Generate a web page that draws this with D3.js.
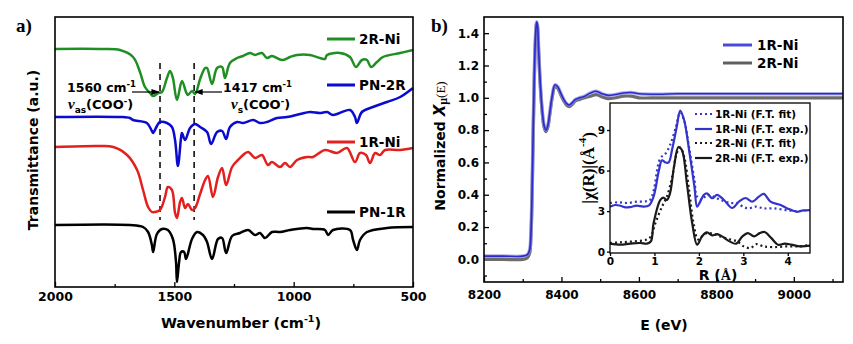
<!DOCTYPE html>
<html><head><meta charset="utf-8">
<script src="https://cdn.jsdelivr.net/npm/d3@7"></script>
<style>
body{margin:0;background:#fff}
svg{display:block}
text{font-family:"DejaVu Sans",sans-serif;font-weight:bold;fill:#000}
</style>
</head><body>
<svg id="chart" width="853" height="344"></svg>
<script>
// ---------- (a) FTIR spectra: [wavenumber cm^-1, transmittance a.u. (offset)] ----------
const ftir2RNi = [[2000,2.38],[1811,2.38],[1728,2.37],[1673,2.30],[1644,2.15],[1623,2.00],[1602,1.94],[1589,1.91],[1568,1.94],[1552,1.95],[1531,2.09],[1518,2.16],[1506,2.09],[1489,1.87],[1468,2.06],[1451,1.95],[1443,1.92],[1426,1.96],[1413,1.93],[1392,2.08],[1371,2.19],[1363,2.19],[1342,2.03],[1321,2.19],[1300,2.20],[1288,2.09],[1267,2.24],[1237,2.29],[1212,2.31],[1183,2.34],[1162,2.32],[1133,2.34],[1112,2.29],[1091,2.31],[1049,2.27],[1015,2.30],[986,2.32],[932,2.32],[890,2.29],[869,2.28],[860,2.32],[806,2.34],[764,2.30],[739,2.20],[714,2.27],[693,2.27],[676,2.20],[651,2.25],[626,2.30],[554,2.34],[500,2.37]];
const ftirPN2R = [[2000,1.70],[1728,1.70],[1686,1.69],[1673,1.67],[1615,1.64],[1594,1.56],[1589,1.54],[1573,1.61],[1560,1.65],[1531,1.64],[1510,1.60],[1497,1.47],[1485,1.21],[1472,1.49],[1468,1.54],[1455,1.47],[1434,1.59],[1413,1.63],[1392,1.60],[1363,1.55],[1346,1.43],[1321,1.55],[1300,1.56],[1283,1.48],[1267,1.60],[1237,1.65],[1212,1.64],[1170,1.67],[1141,1.64],[1112,1.65],[1070,1.69],[1028,1.70],[973,1.73],[932,1.75],[890,1.74],[860,1.75],[835,1.72],[764,1.77],[743,1.70],[735,1.64],[714,1.75],[668,1.80],[609,1.85],[554,1.90],[500,1.99]];
const ftir1RNi = [[2000,1.40],[1811,1.41],[1756,1.40],[1698,1.32],[1656,1.17],[1631,0.97],[1610,0.80],[1594,0.75],[1581,0.75],[1560,0.77],[1539,0.90],[1527,1.00],[1510,0.97],[1497,0.74],[1489,0.69],[1476,0.85],[1468,0.89],[1455,0.79],[1443,0.83],[1426,0.77],[1413,0.79],[1392,0.93],[1371,1.07],[1359,1.11],[1338,0.90],[1317,1.10],[1300,1.19],[1283,1.02],[1258,1.20],[1233,1.27],[1191,1.35],[1162,1.29],[1133,1.32],[1108,1.22],[1091,1.25],[1057,1.20],[1036,1.24],[1015,1.20],[986,1.27],[944,1.30],[919,1.30],[869,1.37],[818,1.34],[777,1.39],[743,1.25],[722,1.34],[697,1.32],[680,1.24],[659,1.34],[638,1.32],[617,1.37],[554,1.37],[500,1.39]];
const ftirPN1R = [[2000,0.62],[1686,0.62],[1631,0.60],[1610,0.55],[1594,0.42],[1589,0.35],[1573,0.53],[1552,0.58],[1527,0.57],[1506,0.48],[1493,0.25],[1489,0.05],[1480,0.25],[1472,0.35],[1459,0.35],[1451,0.28],[1426,0.48],[1405,0.55],[1380,0.52],[1363,0.45],[1342,0.28],[1317,0.48],[1300,0.49],[1283,0.34],[1258,0.51],[1225,0.54],[1191,0.57],[1162,0.52],[1141,0.54],[1120,0.49],[1091,0.55],[1057,0.55],[1015,0.57],[944,0.59],[919,0.58],[869,0.57],[856,0.52],[835,0.57],[764,0.57],[751,0.47],[735,0.37],[722,0.47],[693,0.55],[609,0.59],[500,0.60]];
const ftirSeries = ["2R-Ni","PN-2R","1R-Ni","PN-1R"];
const ftirColors = ["#1f8f24","#0a0ad0","#e3201e","#000000"];
const wnTicks = [2000,1500,1000,500];
const wnMinorTicks = [1750,1250,750];
const markWn = [1560,1417];

// ---------- (b) Ni K-edge XANES: [E eV, normalized mu] ----------
const xanes1RNi = [[8200,0.02],[8250,0.02],[8300,0.02],[8312,0.03],[8318,0.06],[8321,0.15],[8324,0.40],[8327,0.80],[8330,1.15],[8333,1.38],[8336,1.47],[8338,1.45],[8341,1.30],[8345,1.10],[8350,0.93],[8355,0.83],[8360,0.80],[8365,0.83],[8370,0.91],[8376,1.01],[8383,1.08],[8390,1.07],[8398,1.03],[8406,0.99],[8413,0.965],[8420,0.955],[8428,0.97],[8436,0.99],[8447,1.00],[8460,1.01],[8475,1.03],[8490,1.04],[8505,1.025],[8520,1.015],[8540,1.02],[8560,1.03],[8580,1.033],[8600,1.025],[8650,1.022],[8700,1.025],[8800,1.025],[8900,1.025],[9000,1.025],[9127,1.025]];
const xanes2RNi = [[8200,0.00],[8250,0.00],[8300,0.00],[8312,0.01],[8318,0.04],[8321,0.13],[8324,0.38],[8327,0.78],[8330,1.13],[8333,1.36],[8336,1.46],[8338,1.44],[8341,1.29],[8345,1.09],[8350,0.92],[8355,0.82],[8360,0.79],[8365,0.82],[8370,0.90],[8376,1.00],[8383,1.07],[8390,1.06],[8398,1.02],[8406,0.98],[8413,0.955],[8420,0.945],[8428,0.96],[8436,0.98],[8447,0.99],[8460,1.00],[8475,1.01],[8490,1.02],[8505,1.005],[8520,0.995],[8540,1.00],[8560,1.01],[8580,1.01],[8600,1.00],[8650,1.00],[8700,1.00],[8800,1.00],[8900,1.00],[9000,1.00],[9127,1.00]];
const eTicks = [8200,8400,8600,8800,9000];
const eMinorTicks = [8300,8500,8700,8900,9100];
const muTicks = [0.0,0.2,0.4,0.6,0.8,1.0,1.2,1.4];
const muMinorTicks = [-0.1,0.1,0.3,0.5,0.7,0.9,1.1,1.3];

// ---------- inset: Fourier transforms [R Å, |chi(R)|] ----------
const ft1RNiExp = [[0,3.33],[0.12,3.45],[0.23,3.4],[0.35,3.28],[0.45,3.3],[0.6,3.4],[0.75,3.33],[0.88,3.42],[0.98,4.07],[1.1,6.0],[1.17,6.76],[1.25,6.6],[1.32,6.6],[1.4,7.6],[1.5,9.2],[1.58,10.44],[1.67,9.7],[1.78,7.5],[1.9,4.8],[1.96,3.33],[2.03,3.7],[2.11,4.19],[2.18,4.31],[2.3,3.95],[2.41,4.2],[2.56,3.84],[2.75,3.23],[2.9,3.7],[3.05,3.97],[3.2,3.7],[3.35,4.07],[3.46,4.28],[3.61,3.7],[3.84,3.45],[3.99,3.2],[4.21,2.95],[4.35,3.05],[4.5,3.08]];
const ft1RNiFit = [[0,3.6],[0.2,3.65],[0.4,3.6],[0.6,3.7],[0.8,3.72],[0.9,3.82],[0.98,4.5],[1.13,6.9],[1.25,7.26],[1.35,7.87],[1.48,9.2],[1.58,10.3],[1.67,9.7],[1.78,7.7],[1.9,5.3],[1.96,4.07],[2.07,3.84],[2.18,4.2],[2.33,4.07],[2.48,3.84],[2.71,3.6],[2.85,3.6],[3.01,3.3],[3.12,3.2],[3.27,3.33],[3.46,3.2],[3.69,3.2],[3.99,3.06],[4.21,3.0],[4.4,3.05]];
const ft2RNiExp = [[0,0.59],[0.23,0.52],[0.45,0.59],[0.68,0.64],[0.83,0.59],[0.92,0.76],[0.98,2.1],[1.13,3.82],[1.2,4.0],[1.28,3.82],[1.35,4.31],[1.44,6.27],[1.54,7.74],[1.62,7.5],[1.73,5.05],[1.85,2.1],[1.96,0.51],[2.07,1.13],[2.18,1.42],[2.3,1.2],[2.41,1.3],[2.52,1.13],[2.69,0.76],[2.84,0.59],[2.98,1.13],[3.1,1.37],[3.24,1.13],[3.37,1.37],[3.48,1.45],[3.63,1.0],[3.78,0.51],[3.93,0.59],[4.08,0.52],[4.28,0.39],[4.5,0.44]];
const ft2RNiFit = [[0,0.64],[0.23,0.69],[0.53,0.76],[0.83,0.9],[0.92,1.13],[1.02,2.1],[1.17,3.33],[1.28,4.07],[1.4,5.54],[1.5,7.26],[1.58,7.7],[1.67,7.0],[1.78,4.56],[1.88,2.1],[1.98,0.9],[2.07,1.13],[2.18,1.37],[2.33,1.3],[2.48,1.13],[2.71,0.9],[2.86,0.76],[3.01,0.39],[3.16,0.27],[3.3,0.56],[3.46,0.39],[3.69,0.34],[3.99,0.39],[4.28,0.39],[4.5,0.51]];
const rTicks = [0,1,2,3,4];
const chiTicks = [0,3,6,9];

const svg = d3.select("#chart");
const curve = d3.curveCatmullRom.alpha(0.5);

function styleAxis(g, size){
  g.select(".domain").remove();
  g.selectAll(".tick line").attr("stroke","#000").attr("stroke-width",1.3);
  g.selectAll(".tick text").attr("font-size",size).attr("fill","#000")
    .style("font-family","'DejaVu Sans',sans-serif").style("font-weight","bold");
}

// ================= panel (a) =================
const A = {l:55, r:413, t:17, b:287};
const xA = d3.scaleLinear().domain([2000,500]).range([A.l,A.r]);
const yA = d3.scaleLinear().domain([0,2.7]).range([A.b,A.t]);

svg.append("g").attr("transform",`translate(0,${A.b})`)
  .call(d3.axisBottom(xA).tickValues(wnMinorTicks).tickSize(-3).tickFormat(""))
  .call(g=>styleAxis(g,12));
svg.append("g").attr("transform",`translate(0,${A.b})`)
  .call(d3.axisBottom(xA).tickValues(wnTicks).tickSize(-5).tickPadding(5).tickFormat(d3.format("d")))
  .call(g=>styleAxis(g,12.5));

// dashed guides at the carboxylate stretches
svg.selectAll(".guide").data(markWn).join("line")
  .attr("x1",d=>xA(d)).attr("x2",d=>xA(d))
  .attr("y1",63).attr("y2",220)
  .attr("stroke","#111").attr("stroke-width",1.6).attr("stroke-dasharray","6,5");

const lineA = d3.line().x(d=>xA(d[0])).y(d=>yA(d[1])).curve(curve);
[ftir2RNi,ftirPN2R,ftir1RNi,ftirPN1R].forEach((s,i)=>{
  svg.append("path").datum(s).attr("d",lineA).attr("fill","none")
    .attr("stroke",ftirColors[i]).attr("stroke-width",2.5).attr("stroke-linejoin","round");
});

svg.append("rect").attr("x",A.l).attr("y",A.t).attr("width",A.r-A.l).attr("height",A.b-A.t)
  .attr("fill","none").attr("stroke","#000").attr("stroke-width",1.6);

// legend (a)
const legAy = [39,85,142,212];
ftirSeries.forEach((name,i)=>{
  svg.append("line").attr("x1",327).attr("x2",355).attr("y1",legAy[i]).attr("y2",legAy[i])
    .attr("stroke",ftirColors[i]).attr("stroke-width",3);
  svg.append("text").attr("x",359).attr("y",legAy[i]+5).attr("font-size",13.5).text(name);
});

// arrow markers
const defs = svg.append("defs");
defs.append("marker").attr("id","arr").attr("viewBox","0 0 10 10").attr("refX",9).attr("refY",5)
  .attr("markerWidth",7).attr("markerHeight",7).attr("orient","auto-start-reverse")
  .append("path").attr("d","M0,1.5L10,5L0,8.5z").attr("fill","#000");

svg.append("line").attr("x1",132).attr("x2",xA(markWn[0])-1).attr("y1",92).attr("y2",92)
  .attr("stroke","#000").attr("stroke-width",1.2).attr("marker-end","url(#arr)");
svg.append("line").attr("x1",222).attr("x2",xA(markWn[1])+1).attr("y1",92).attr("y2",92)
  .attr("stroke","#000").attr("stroke-width",1.2).attr("marker-end","url(#arr)");

function wnLabel(x,y,val){
  const t = svg.append("text").attr("x",x).attr("y",y).attr("font-size",12.5);
  t.append("tspan").text(val+" cm");
  t.append("tspan").attr("dy",-5).attr("font-size",8.5).text("-1");
}
function vibLabel(x,y,sub){
  const t = svg.append("text").attr("x",x).attr("y",y).attr("font-size",13);
  t.append("tspan").style("font-family","'Liberation Serif',serif").style("font-style","italic")
    .attr("font-size",15).text("ν");
  t.append("tspan").attr("dy",4).attr("font-size",9).text(sub);
  t.append("tspan").attr("dy",-4).text("(COO");
  t.append("tspan").attr("dy",-5).attr("font-size",8.5).text("-");
  t.append("tspan").attr("dy",5).text(")");
}
wnLabel(67,92,markWn[0]);
vibLabel(68,109,"as");
wnLabel(223,92,markWn[1]);
vibLabel(231,109,"s");

svg.append("text").attr("transform","translate(33,150) rotate(-90)")
  .attr("text-anchor","middle").attr("dominant-baseline","central").attr("font-size",14)
  .text("Transmittance (a.u.)");
const wl = svg.append("text").attr("x",241).attr("y",328).attr("text-anchor","middle").attr("font-size",14.5);
wl.append("tspan").text("Wavenumber (cm");
wl.append("tspan").attr("dy",-6).attr("font-size",9.5).text("-1");
wl.append("tspan").attr("dy",6).text(")");

svg.append("text").attr("x",16).attr("y",32).attr("font-size",19)
  .style("font-family","'Liberation Serif',serif").text("a)");

// ================= panel (b) =================
const B = {l:484, r:843, t:17, b:282};
const xB = d3.scaleLinear().domain([8200,9127]).range([B.l,B.r]);
const yB = d3.scaleLinear().domain([-0.14,1.5]).range([B.b,B.t]);

svg.append("g").attr("transform",`translate(0,${B.b})`)
  .call(d3.axisBottom(xB).tickValues(eMinorTicks).tickSize(-3).tickFormat(""))
  .call(g=>styleAxis(g,12));
svg.append("g").attr("transform",`translate(0,${B.b})`)
  .call(d3.axisBottom(xB).tickValues(eTicks).tickSize(-5).tickPadding(8).tickFormat(d3.format("d")))
  .call(g=>styleAxis(g,12));
svg.append("g").attr("transform",`translate(${B.l},0)`)
  .call(d3.axisLeft(yB).tickValues(muMinorTicks).tickSize(-3).tickFormat(""))
  .call(g=>styleAxis(g,12));
svg.append("g").attr("transform",`translate(${B.l},0)`)
  .call(d3.axisLeft(yB).tickValues(muTicks).tickSize(-5).tickPadding(5).tickFormat(d3.format(".1f")))
  .call(g=>styleAxis(g,12));

const lineB = d3.line().x(d=>xB(d[0])).y(d=>yB(d[1])).curve(curve);
svg.append("path").datum(xanes2RNi).attr("d",lineB).attr("fill","none")
  .attr("stroke","#6c6c6c").attr("stroke-width",3.2).attr("stroke-linejoin","round");
svg.append("path").datum(xanes1RNi).attr("d",lineB).attr("fill","none")
  .attr("stroke","#8c8ce0").attr("stroke-width",3.6).attr("stroke-opacity",0.7).attr("stroke-linejoin","round");
svg.append("path").datum(xanes1RNi).attr("d",lineB).attr("fill","none")
  .attr("stroke","#2a2ad0").attr("stroke-width",1.6).attr("stroke-linejoin","round");

svg.append("rect").attr("x",B.l).attr("y",B.t).attr("width",B.r-B.l).attr("height",B.b-B.t)
  .attr("fill","none").attr("stroke","#000").attr("stroke-width",1.6);

// legend (b)
[["1R-Ni","#4a4ad8",45],["2R-Ni","#606060",63]].forEach(([n,c,y])=>{
  svg.append("line").attr("x1",723).attr("x2",752).attr("y1",y).attr("y2",y).attr("stroke",c).attr("stroke-width",3);
  svg.append("text").attr("x",757).attr("y",y+5).attr("font-size",13.5).text(n);
});

const yl = svg.append("text").attr("transform","translate(440,146) rotate(-90)")
  .attr("text-anchor","middle").attr("dominant-baseline","central").attr("font-size",14);
yl.append("tspan").text("Normalized ");
yl.append("tspan").style("font-style","italic").attr("font-size",15).text("X");
yl.append("tspan").style("font-family","'Liberation Serif',serif").attr("font-size",12).attr("dy",3).text("μ");
yl.append("tspan").style("font-family","'Liberation Serif',serif").style("font-weight","normal").attr("font-size",13).attr("dy",-3).text("(E)");

svg.append("text").attr("x",664).attr("y",330).attr("text-anchor","middle").attr("font-size",14).text("E (eV)");
svg.append("text").attr("x",431).attr("y",32).attr("font-size",19)
  .style("font-family","'Liberation Serif',serif").text("b)");

// ================= inset =================
const I = {l:610, r:810, t:103, b:253};
const xI = d3.scaleLinear().domain([0,4.5]).range([I.l,I.r]);
const yI = d3.scaleLinear().domain([-0.1,11]).range([I.b,I.t]);

svg.append("rect").attr("x",I.l).attr("y",I.t).attr("width",I.r-I.l).attr("height",I.b-I.t)
  .attr("fill","#fff").attr("stroke","none");

svg.append("g").attr("transform",`translate(0,${I.b})`)
  .call(d3.axisBottom(xI).tickValues(rTicks).tickSize(3).tickPadding(2).tickFormat(d3.format("d")))
  .call(g=>styleAxis(g,10.5));
svg.append("g").attr("transform",`translate(${I.l},0)`)
  .call(d3.axisLeft(yI).tickValues(chiTicks).tickSize(3).tickPadding(2).tickFormat(d3.format("d")))
  .call(g=>styleAxis(g,10.5));

const lineI = d3.line().x(d=>xI(d[0])).y(d=>yI(d[1])).curve(curve);
const insetSeries = [
  {d:ft1RNiFit, c:"#3434cc", dash:"2,3", name:"1R-Ni (F.T. fit)"},
  {d:ft1RNiExp, c:"#3434cc", dash:null, name:"1R-Ni (F.T. exp.)"},
  {d:ft2RNiFit, c:"#1a1a1a", dash:"2,3", name:"2R-Ni (F.T. fit)"},
  {d:ft2RNiExp, c:"#1a1a1a", dash:null, name:"2R-Ni (F.T. exp.)"}
];
insetSeries.forEach(s=>{
  svg.append("path").datum(s.d).attr("d",lineI).attr("fill","none")
    .attr("stroke",s.c).attr("stroke-width",2.2).attr("stroke-dasharray",s.dash)
    .attr("stroke-linejoin","round");
});
svg.append("rect").attr("x",I.l).attr("y",I.t).attr("width",I.r-I.l).attr("height",I.b-I.t)
  .attr("fill","none").attr("stroke","#000").attr("stroke-width",1.3);

const legIy = [114,129,143,158];
insetSeries.forEach((s,i)=>{
  svg.append("line").attr("x1",695).attr("x2",712).attr("y1",legIy[i]).attr("y2",legIy[i])
    .attr("stroke",s.c).attr("stroke-width",2.2).attr("stroke-dasharray",s.dash);
  svg.append("text").attr("x",715).attr("y",legIy[i]+4).attr("font-size",10.5).text(s.name);
});

const il = svg.append("text").attr("transform","translate(588,168) rotate(-90)")
  .attr("text-anchor","middle").attr("dominant-baseline","central").attr("font-size",17)
  .style("font-family","'Liberation Serif',serif");
il.append("tspan").text("|χ(R)|(Å");
il.append("tspan").attr("dy",-6).attr("font-size",11).text("-4");
il.append("tspan").attr("dy",6).text(")");

const rl = svg.append("text").attr("x",718).attr("y",280).attr("text-anchor","middle").attr("font-size",14);
rl.append("tspan").text("R (");
rl.append("tspan").style("font-family","'Liberation Serif',serif").text("Å");
rl.append("tspan").text(")");
</script>
</body></html>
